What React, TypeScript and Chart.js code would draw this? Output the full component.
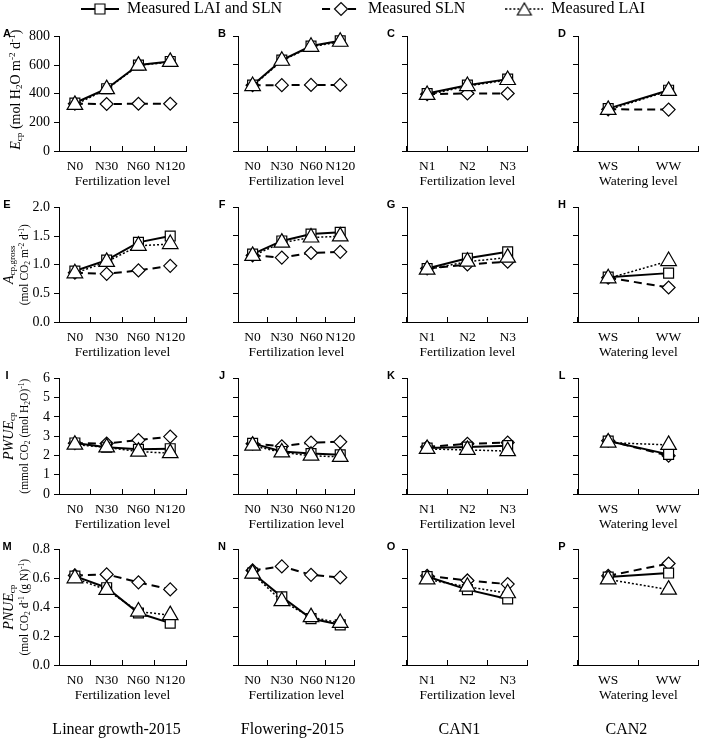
import React, { useEffect, useRef } from 'react';
import { Chart, registerables } from 'chart.js';

Chart.register(...registerables);

const SERIF = '"Liberation Serif", "Times New Roman", serif';
const SANS = '"Liberation Sans", Arial, sans-serif';
Chart.defaults.font.family = SERIF;
Chart.defaults.color = '#000';

// categories
const levels2015 = ['N0', 'N30', 'N60', 'N120'];
const levelsCan1 = ['N1', 'N2', 'N3'];
const levelsCan2 = ['WS', 'WW'];
const columnLabels = [levels2015, levels2015, levelsCan1, levelsCan2];
const columnAxisTitles = ['Fertilization level', 'Fertilization level', 'Fertilization level', 'Watering level'];
const columnTitles = ['Linear growth-2015', 'Flowering-2015', 'CAN1', 'CAN2'];
const panelLetters = [['A', 'B', 'C', 'D'], ['E', 'F', 'G', 'H'], ['I', 'J', 'K', 'L'], ['M', 'N', 'O', 'P']];
const seriesNames = ['Measured LAI and SLN', 'Measured SLN', 'Measured LAI'];

// row 1: Ecp (mol H2O m-2 d-1)
const epBoth = [[335, 435, 600, 625], [458, 633, 730, 767], [400, 458, 500], [295, 423]];
const epSln = [[330, 328, 330, 330], [458, 458, 460, 460], [395, 400, 400], [290, 288]];
const epLai = [[322, 432, 596, 622], [452, 628, 725, 760], [390, 452, 494], [286, 418]];

// row 2: Acp,gross (mol CO2 m-2 d-1)
const agBoth = [[0.89, 1.08, 1.39, 1.5], [1.18, 1.41, 1.53, 1.56], [0.93, 1.11, 1.22], [0.78, 0.85]];
const agSln = [[0.86, 0.84, 0.9, 0.98], [1.16, 1.12, 1.2, 1.22], [0.93, 1.0, 1.05], [0.77, 0.6]];
const agLai = [[0.85, 1.05, 1.33, 1.36], [1.15, 1.38, 1.47, 1.49], [0.91, 1.05, 1.12], [0.76, 1.06]];

// row 3: PWUEcp
const pwBoth = [[2.65, 2.43, 2.32, 2.35], [2.62, 2.2, 2.09, 2.03], [2.38, 2.43, 2.5], [2.74, 2.05]];
const pwSln = [[2.64, 2.62, 2.8, 2.98], [2.6, 2.47, 2.66, 2.7], [2.43, 2.6, 2.66], [2.76, 1.98]];
const pwLai = [[2.56, 2.42, 2.2, 2.12], [2.5, 2.15, 1.98, 1.92], [2.33, 2.28, 2.22], [2.66, 2.54]];

// row 4: PNUEcp
const pnBoth = [[0.615, 0.535, 0.36, 0.29], [0.634, 0.47, 0.32, 0.277], [0.61, 0.52, 0.455], [0.607, 0.634]];
const pnSln = [[0.62, 0.627, 0.572, 0.523], [0.652, 0.68, 0.622, 0.604], [0.615, 0.583, 0.558], [0.615, 0.7]];
const pnLai = [[0.6, 0.52, 0.37, 0.345], [0.63, 0.44, 0.33, 0.29], [0.59, 0.54, 0.495], [0.59, 0.52]];

const rowBoth = [epBoth, agBoth, pwBoth, pnBoth];
const rowSln = [epSln, agSln, pwSln, pnSln];
const rowLai = [epLai, agLai, pwLai, pnLai];

// y axes
const yMax = [800, 2, 6, 0.8];
const yStep = [200, 0.5, 1, 0.2];
const yDecimals = [0, 1, 0, 1];

type Seg = [string, string];
const yTitles: Seg[][][] = [
  [[['E', 'i'], ['cp', 'sub'], [' (mol H', ''], ['2', 'sub'], ['O m', ''], ['-2', 'sup'], [' d', ''], ['-1', 'sup'], [')', '']]],
  [
    [['A', 'i'], ['cp,gross', 'sub']],
    [['(mol CO', ''], ['2', 'sub'], [' m', ''], ['-2', 'sup'], [' d', ''], ['-1', 'sup'], [')', '']],
  ],
  [
    [['PWUE', 'i'], ['cp', 'sub']],
    [['(mmol CO', ''], ['2', 'sub'], [' (mol H', ''], ['2', 'sub'], ['O)', ''], ['-1', 'sup'], [')', '']],
  ],
  [
    [['PNUE', 'i'], ['cp', 'sub']],
    [['(mol CO', ''], ['2', 'sub'], [' d', ''], ['-1', 'sup'], [' (g N)', ''], ['-1', 'sup'], [')', '']],
  ],
];

// layout of the grid (pixels in the 708x740 page)
const plotLeft = [59, 238, 407, 578];
const plotW = [138, 129, 129, 129];
const yAxisW = [59, 45, 45, 45];
const plotTop = [36, 207, 378, 549];
const plotH = [115, 115, 116, 116];
const PAD_TOP = 12;
const X_AXIS_H = 42;
const colTitleDx = [-6, -4, -8, -12];

function drawRich(ctx: CanvasRenderingContext2D, segs: Seg[], cx: number, cy: number, size: number) {
  ctx.save();
  ctx.translate(cx, cy);
  ctx.rotate(-Math.PI / 2);
  ctx.textAlign = 'left';
  ctx.textBaseline = 'alphabetic';
  ctx.fillStyle = '#000';
  const fontFor = (kind: string) => {
    const s = kind === 'sub' || kind === 'sup' ? size * 0.65 : size;
    return `${kind === 'i' ? 'italic ' : ''}${s}px ${SERIF}`;
  };
  let total = 0;
  const widths = segs.map(([t, k]) => {
    ctx.font = fontFor(k);
    const w = ctx.measureText(t).width;
    total += w;
    return w;
  });
  let x = -total / 2;
  const base = size * 0.35;
  segs.forEach(([t, k], i) => {
    ctx.font = fontFor(k);
    const dy = k === 'sub' ? size * 0.15 : k === 'sup' ? -size * 0.36 : 0;
    ctx.fillText(t, x, base + dy);
    x += widths[i];
  });
  ctx.restore();
}

function makeDecor(row: number, col: number) {
  return {
    id: 'panelDecor',
    afterDraw(chart: any) {
      const { ctx, chartArea } = chart;
      if (!chartArea) return;
      ctx.save();
      ctx.fillStyle = '#000';
      ctx.font = `bold 11px ${SANS}`;
      ctx.textAlign = 'center';
      ctx.textBaseline = 'middle';
      ctx.fillText(panelLetters[row][col], chartArea.left + (col === 0 ? -52 : -16), chartArea.top - 2);

      const midY = (chartArea.top + chartArea.bottom) / 2;
      if (col === 0) {
        const lines = yTitles[row];
        if (lines.length === 1) {
          drawRich(ctx, lines[0], 15, midY - 4, 14);
        } else {
          drawRich(ctx, lines[0], 8, midY, 14);
          drawRich(ctx, lines[1], 24, midY, 11.5);
        }
      }
      if (row === 3) {
        ctx.font = `16px ${SERIF}`;
        ctx.textAlign = 'center';
        ctx.textBaseline = 'middle';
        ctx.fillText(columnTitles[col], (chartArea.left + chartArea.right) / 2 + colTitleDx[col], chartArea.bottom + 65);
      }
      ctx.restore();
    },
  };
}

const Panel: React.FC<{ row: number; col: number }> = ({ row, col }) => {
  const ref = useRef<HTMLCanvasElement>(null);
  const width = yAxisW[col] + plotW[col] + 2;
  const bottomPad = row === 3 ? 33 : 0;
  const height = PAD_TOP + plotH[row] + X_AXIS_H + bottomPad;
  const left = plotLeft[col] - yAxisW[col];
  const top = plotTop[row] - PAD_TOP;

  useEffect(() => {
    if (!ref.current) return;
    const marker = { pointBackgroundColor: '#fff', pointBorderColor: '#000', pointBorderWidth: 1.2, fill: false, tension: 0, clip: false as any };
    const chart = new Chart(ref.current, {
      type: 'line',
      data: {
        labels: columnLabels[col],
        datasets: [
          { label: seriesNames[0], data: rowBoth[row][col], borderColor: '#000', borderWidth: 2, pointStyle: 'rect', pointRadius: 7, order: 2, ...marker },
          { label: seriesNames[1], data: rowSln[row][col], borderColor: '#000', borderWidth: 2, borderDash: [8, 5], pointStyle: 'rectRot', pointRadius: 6.5, order: 3, ...marker },
          { label: seriesNames[2], data: rowLai[row][col], borderColor: '#000', borderWidth: 1.5, borderDash: [2, 2], pointStyle: 'triangle', pointRadius: 9, order: 1, ...marker },
        ],
      },
      options: {
        animation: false,
        responsive: false,
        layout: { padding: { top: PAD_TOP, right: 2, bottom: bottomPad, left: 0 } },
        plugins: { legend: { display: false }, tooltip: { enabled: false } },
        scales: {
          x: {
            type: 'category',
            offset: true,
            grid: { offset: true, drawOnChartArea: false, drawTicks: true, tickLength: -5, color: '#000', lineWidth: 1 },
            border: { display: true, color: '#000', width: 1 },
            ticks: { color: '#000', font: { family: SERIF, size: 13.5 }, padding: 12.5, maxRotation: 0, autoSkip: false },
            title: { display: true, text: columnAxisTitles[col], color: '#000', font: { family: SERIF, size: 13.5 }, padding: { top: 0, bottom: 3.6 } },
            afterFit: (s: any) => { s.height = X_AXIS_H; },
          },
          y: {
            min: 0,
            max: yMax[row],
            grid: { drawOnChartArea: false, drawTicks: true, tickLength: 5, color: '#000', lineWidth: 1 },
            border: { display: true, color: '#000', width: 1 },
            ticks: {
              display: col === 0,
              autoSkip: false,
              stepSize: yStep[row],
              color: '#000',
              font: { family: SERIF, size: 14 },
              padding: 4,
              callback: (v: any) => Number(v).toFixed(yDecimals[row]),
            },
            afterFit: (s: any) => { s.width = yAxisW[col]; },
          },
        },
      } as any,
      plugins: [makeDecor(row, col)],
    });
    return () => chart.destroy();
  }, [row, col]);

  return <canvas ref={ref} width={width} height={height} style={{ position: 'absolute', left, top, width, height }} />;
};

function legendIcon(kind: number): HTMLCanvasElement {
  const c = document.createElement('canvas');
  c.width = 38;
  c.height = 20;
  const ctx = c.getContext('2d')!;
  ctx.strokeStyle = '#000';
  ctx.lineWidth = kind === 2 ? 1.5 : 2;
  ctx.setLineDash(kind === 0 ? [] : kind === 1 ? [8, 5] : [2, 2]);
  ctx.beginPath();
  ctx.moveTo(0, 10);
  ctx.lineTo(38, 10);
  ctx.stroke();
  ctx.setLineDash([]);
  ctx.lineWidth = 1.2;
  ctx.fillStyle = '#fff';
  ctx.beginPath();
  if (kind === 0) {
    ctx.rect(14, 5, 10, 10);
  } else if (kind === 1) {
    ctx.moveTo(12.5, 10); ctx.lineTo(19, 3.5); ctx.lineTo(25.5, 10); ctx.lineTo(19, 16.5); ctx.closePath();
  } else {
    const r = 8;
    ctx.moveTo(19, 12 - r);
    ctx.lineTo(19 + r * Math.sin((2 * Math.PI) / 3), 12 + r / 2);
    ctx.lineTo(19 - r * Math.sin((2 * Math.PI) / 3), 12 + r / 2);
    ctx.closePath();
  }
  ctx.fill();
  ctx.stroke();
  return c;
}

const SeriesLegend: React.FC = () => {
  const ref = useRef<HTMLCanvasElement>(null);
  useEffect(() => {
    if (!ref.current) return;
    const icons = [0, 1, 2].map(legendIcon);
    const chart = new Chart(ref.current, {
      type: 'line',
      data: { labels: [], datasets: [] },
      options: {
        animation: false,
        responsive: false,
        layout: { padding: { left: 18, right: 0, top: 0, bottom: 0 } },
        scales: { x: { display: false }, y: { display: false } },
        plugins: {
          tooltip: { enabled: false },
          legend: {
            display: true,
            position: 'top',
            align: 'center',
            labels: {
              usePointStyle: true,
              pointStyleWidth: 38,
              padding: 40,
              color: '#000',
              font: { family: SERIF, size: 16 },
              generateLabels: () =>
                seriesNames.map((name, i) => ({
                  text: name,
                  pointStyle: icons[i],
                  datasetIndex: i,
                  hidden: false,
                  lineWidth: 0,
                  fillStyle: 'transparent',
                  strokeStyle: 'transparent',
                  fontColor: '#000',
                })),
            },
          },
        },
      } as any,
    });
    return () => chart.destroy();
  }, []);
  return <canvas ref={ref} width={708} height={140} style={{ position: 'absolute', left: 0, top: -39, width: 708, height: 140 }} />;
};

export default function App() {
  const panels = [];
  for (let r = 0; r < 4; r++) {
    for (let c = 0; c < 4; c++) {
      panels.push(<Panel key={`${r}-${c}`} row={r} col={c} />);
    }
  }
  return (
    <div style={{ position: 'absolute', left: 0, top: 0, width: 708, height: 740, overflow: 'hidden', background: '#fff' }}>
      {panels}
      <SeriesLegend />
    </div>
  );
}
